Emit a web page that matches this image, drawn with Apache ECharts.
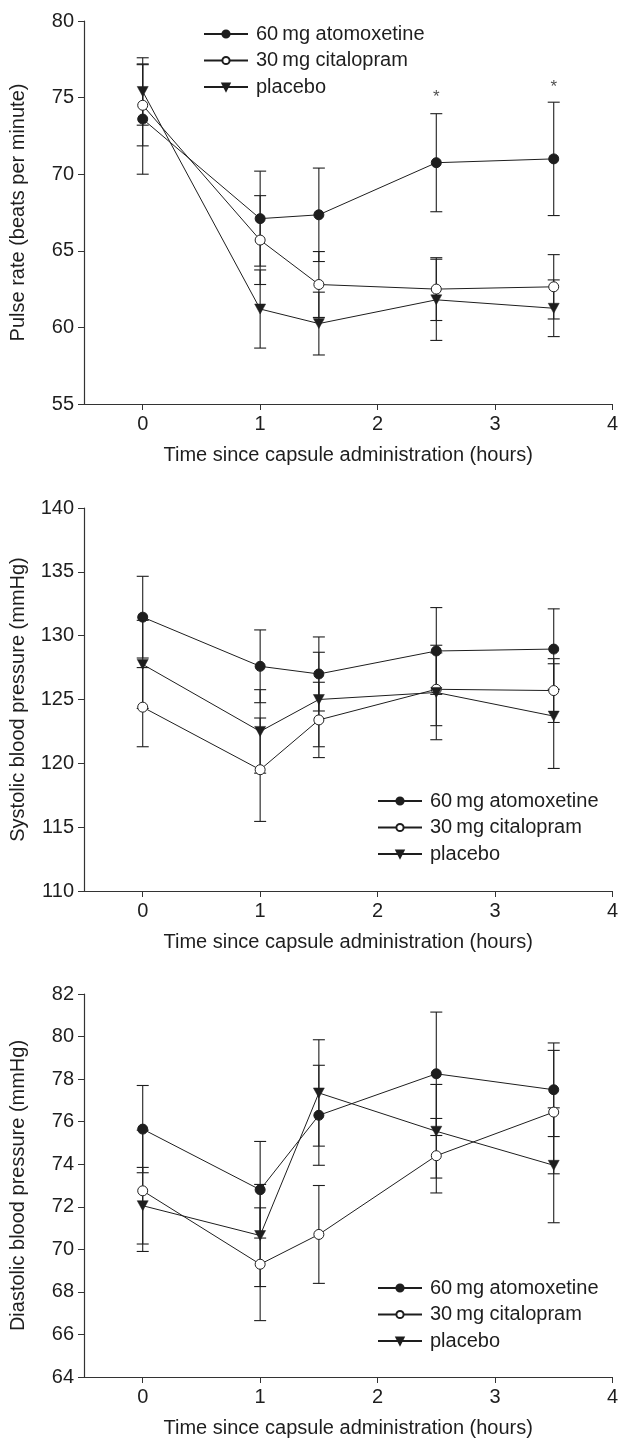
<!DOCTYPE html>
<html>
<head>
    <meta charset="utf-8">
    <title>Pulse and blood pressure</title>
    <script src="https://cdn.jsdelivr.net/npm/echarts@6.0.0/dist/echarts.min.js"></script>
    <style>
        body { margin: 0; background: #fff; }
        #chart { width: 621px; height: 1439px; }
    </style>
</head>
<body>
<div id="chart"></div>

<script>
    // 数据
    const times = [0, 1, 1.5, 2.5, 3.5];
    const xTicks = [0, 1, 2, 3, 4];
    const groupNames = ['60\u2009mg atomoxetine', '30\u2009mg citalopram', 'placebo'];

    const pulseAtx = [73.6, 67.1, 67.35, 70.75, 71.0];
    const pulseAtxErr = [3.6, 3.1, 3.05, 3.2, 3.7];
    const pulseCit = [74.5, 65.7, 62.8, 62.5, 62.65];
    const pulseCitErr = [2.65, 2.9, 2.15, 2.05, 2.1];
    const pulsePla = [75.4, 61.2, 60.25, 61.8, 61.25];
    const pulsePlaErr = [2.2, 2.55, 2.05, 2.65, 1.85];
    const sigTimes = [2.5, 3.5];
    const sigPulse = [75.0, 75.7];

    const sysAtx = [131.45, 127.6, 127.0, 128.8, 128.95];
    const sysAtxErr = [3.2, 2.85, 2.9, 3.4, 3.15];
    const sysCit = [124.4, 119.5, 123.4, 125.8, 125.7];
    const sysCitErr = [3.1, 4.05, 2.95, 2.85, 2.5];
    const sysPla = [127.75, 122.5, 125.0, 125.55, 123.7];
    const sysPlaErr = [3.45, 3.27, 3.7, 3.7, 4.1];

    const diaAtx = [75.65, 72.8, 76.3, 78.25, 77.5];
    const diaAtxErr = [2.05, 2.27, 2.35, 2.9, 2.2];
    const diaCit = [72.75, 69.3, 70.7, 74.4, 76.45];
    const diaCitErr = [2.85, 2.65, 2.3, 1.75, 2.9];
    const diaPla = [72.05, 70.65, 77.35, 75.55, 73.95];
    const diaPlaErr = [1.8, 2.4, 2.5, 2.2, 2.7];

    const FONT = "'Liberation Sans', Arial, sans-serif";
    const INK = '#1e1e1e';
    const triDown = 'path://M0,0 L10,0 L5,9 Z';

    // 每个面板: 轴范围和标题
    const panels = [
        { name: 'Pulse rate (beats per minute)', min: 55, max: 80, step: 5, top: 21,
          groups: [[pulseAtx, pulseAtxErr], [pulseCit, pulseCitErr], [pulsePla, pulsePlaErr]],
          legend: { left: 203, top: 24 } },
        { name: 'Systolic blood pressure (mmHg)', min: 110, max: 140, step: 5, top: 508,
          groups: [[sysAtx, sysAtxErr], [sysCit, sysCitErr], [sysPla, sysPlaErr]],
          legend: { left: 377, top: 791 } },
        { name: 'Diastolic blood pressure (mmHg)', min: 64, max: 82, step: 2, top: 994,
          groups: [[diaAtx, diaAtxErr], [diaCit, diaCitErr], [diaPla, diaPlaErr]],
          legend: { left: 377, top: 1278 } }
    ];

    const markerStyles = [
        { symbol: 'circle', symbolSize: 10, itemStyle: { color: INK, borderColor: INK, borderWidth: 1 } },
        { symbol: 'circle', symbolSize: 10, itemStyle: { color: '#fff', borderColor: INK, borderWidth: 1 } },
        { symbol: triDown, symbolSize: [11, 10], itemStyle: { color: INK, borderColor: INK, borderWidth: 0.5 } }
    ];

    function errorBars(params, api) {
        const x = api.value(0);
        const hi = api.coord([x, api.value(2)]);
        const lo = api.coord([x, api.value(1)]);
        const w = 6;
        const style = { stroke: INK, lineWidth: 1.1 };
        return {
            type: 'group',
            children: [
                { type: 'line', shape: { x1: hi[0], y1: hi[1], x2: lo[0], y2: lo[1] }, style: style },
                { type: 'line', shape: { x1: hi[0] - w, y1: hi[1], x2: hi[0] + w, y2: hi[1] }, style: style },
                { type: 'line', shape: { x1: lo[0] - w, y1: lo[1], x2: lo[0] + w, y2: lo[1] }, style: style }
            ]
        };
    }

    const grids = [], xAxes = [], yAxes = [], legends = [], series = [];

    panels.forEach(function (p, i) {
        grids.push({ left: 84, right: 7, top: p.top, height: 383 });
        xAxes.push({
            gridIndex: i, type: 'value', min: -0.5, max: 4,
            name: 'Time since capsule administration (hours)',
            nameLocation: 'middle', nameGap: 41,
            nameTextStyle: { fontFamily: FONT, fontSize: 20, color: INK },
            axisLine: { show: true, onZero: false, lineStyle: { color: '#333', width: 1.2 } },
            axisTick: { show: true, length: 6, customValues: xTicks, lineStyle: { color: '#333' } },
            axisLabel: { customValues: xTicks, margin: 10, fontFamily: FONT, fontSize: 20, color: INK },
            splitLine: { show: false }
        });
        yAxes.push({
            gridIndex: i, type: 'value', min: p.min, max: p.max, interval: p.step,
            name: p.name, nameLocation: 'middle', nameGap: 56,
            nameTextStyle: { fontFamily: FONT, fontSize: 20, color: INK },
            axisLine: { show: true, onZero: false, lineStyle: { color: '#333', width: 1.2 } },
            axisTick: { show: true, length: 6, lineStyle: { color: '#333' } },
            axisLabel: { margin: 10, fontFamily: FONT, fontSize: 20, color: INK },
            splitLine: { show: false }
        });
        legends.push({
            left: p.legend.left, top: p.legend.top, orient: 'vertical',
            padding: 0, itemWidth: 44, itemHeight: 9, itemGap: 6.5,
            selectedMode: false,
            data: groupNames,
            textStyle: { fontFamily: FONT, fontSize: 20, lineHeight: 20, color: INK, padding: [0, 0, 0, 3] }
        });

        p.groups.forEach(function (g, k) {
            const means = g[0], errs = g[1];
            series.push({
                type: 'custom', xAxisIndex: i, yAxisIndex: i, z: 1,
                renderItem: errorBars,
                encode: { x: 0, y: [1, 2] },
                data: times.map(function (t, j) { return [t, means[j] - errs[j], means[j] + errs[j]]; }),
                silent: true
            });
            series.push(Object.assign({
                type: 'line', name: groupNames[k], xAxisIndex: i, yAxisIndex: i, z: 3 + k,
                lineStyle: { color: INK, width: 1 },
                showAllSymbol: true,
                data: times.map(function (t, j) { return [t, means[j]]; })
            }, markerStyles[k]));
        });
    });

    // 显著性星号
    series.push({
        type: 'scatter', xAxisIndex: 0, yAxisIndex: 0, symbolSize: 1,
        itemStyle: { color: 'rgba(0,0,0,0)' },
        label: { show: true, position: 'inside', formatter: '*', fontFamily: FONT, fontSize: 17, color: INK },
        data: sigTimes.map(function (t, j) { return [t, sigPulse[j]]; })
    });

    const chart = echarts.init(document.getElementById('chart'));
    chart.setOption({
        animation: false,
        grid: grids,
        xAxis: xAxes,
        yAxis: yAxes,
        legend: legends,
        series: series
    });
</script>
</body>
</html>
